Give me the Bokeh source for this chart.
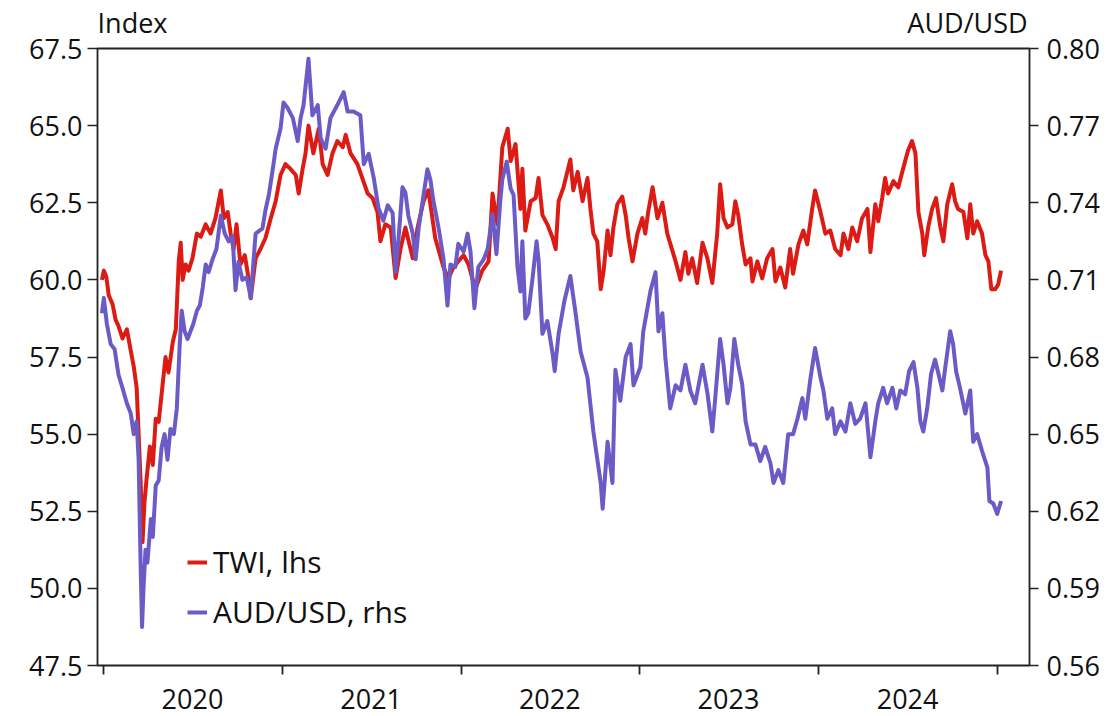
import numpy as np
from datetime import datetime
from bokeh.plotting import figure
from bokeh.models import (Range1d, LinearAxis, FixedTicker, CustomJSTickFormatter,
                          PrintfTickFormatter, Legend, LegendItem)
from bokeh.embed import file_html
from bokeh.resources import INLINE

# ---- data ----
# days since 2020-01-01
twi_days = [-3, 1, 6, 11, 19, 25, 31, 39, 48, 56, 62, 68, 72, 76, 80, 84, 88, 95, 101, 107, 113, 121, 127, 133,
            142, 148, 154, 158, 162, 168, 174, 182, 191, 199, 209, 219, 229, 240, 246, 254, 260, 266, 272, 280,
            289, 297, 301, 311, 321, 331, 342, 352, 362, 372, 382, 393, 399, 407, 413, 419, 429, 440, 448, 458,
            468, 478, 489, 495, 505, 519, 529, 540, 550, 560, 566, 576, 587, 597, 607, 617, 632, 642, 654, 664,
            678, 695, 705, 715, 725, 736, 746, 760, 774, 787, 795, 805, 815, 826, 832, 842, 852, 856, 862, 873,
            883, 889, 897, 907, 918, 924, 930, 940, 954, 960, 969, 979, 989, 995, 1001, 1009, 1016, 1022, 1030,
            1036, 1042, 1050, 1060, 1067, 1073, 1081, 1091, 1101, 1107, 1113, 1122, 1132, 1142, 1152, 1169, 1179,
            1189, 1195, 1203, 1213, 1224, 1234, 1244, 1254, 1260, 1267, 1275, 1285, 1291, 1297, 1305, 1312, 1322,
            1326, 1336, 1346, 1356, 1367, 1373, 1383, 1393, 1403, 1409, 1420, 1430, 1438, 1448, 1454, 1465, 1475,
            1485, 1495, 1506, 1512, 1522, 1530, 1540, 1550, 1561, 1567, 1577, 1583, 1591, 1597, 1603, 1614, 1624,
            1632, 1638, 1644, 1652, 1659, 1665, 1673, 1677, 1685, 1693, 1701, 1710, 1716, 1724, 1734, 1740, 1746,
            1757, 1765, 1771, 1777, 1785, 1795, 1802, 1808, 1814, 1822, 1828, 1834]
twi_vals = [60.0, 60.3, 60.1, 59.5, 59.2, 58.7, 58.5, 58.1, 58.4, 57.7, 57.2, 56.5, 55.0, 53.5, 51.5, 52.8, 53.5,
            54.6, 54.0, 55.5, 55.4, 56.6, 57.5, 57.0, 58.0, 58.4, 60.6, 61.2, 60.0, 60.5, 60.3, 60.7, 61.5, 61.4,
            61.8, 61.5, 62.0, 62.9, 62.0, 62.2, 61.5, 61.0, 61.8, 60.5, 60.8, 60.0, 59.4, 60.7, 61.0, 61.35, 62.0,
            62.55, 63.4, 63.75, 63.6, 63.4, 62.8, 63.6, 64.1, 65.0, 64.1, 64.9, 63.75, 63.4, 64.1, 64.5, 64.3,
            64.7, 64.1, 63.75, 63.3, 62.8, 62.65, 62.2, 61.25, 61.8, 61.7, 60.06, 61.0, 61.7, 60.7, 61.7, 62.55,
            62.9, 61.35, 60.4, 60.05, 60.4, 60.6, 60.8, 60.5, 59.7, 60.3, 60.6, 62.8, 61.8, 64.3, 64.9, 63.85,
            64.4, 62.3, 63.6, 61.6, 62.55, 62.65, 63.3, 62.1, 61.8, 61.35, 61.0, 62.55, 63.0, 63.9, 62.9, 63.5,
            62.55, 63.3, 62.3, 61.5, 61.25, 59.7, 60.3, 61.6, 60.8, 61.7, 62.45, 62.7, 62.1, 61.35, 60.6, 61.5,
            62.0, 61.5, 62.2, 63.0, 62.0, 62.5, 61.5, 60.6, 60.0, 60.9, 60.2, 60.7, 59.9, 61.2, 60.7, 59.9, 61.5,
            63.1, 62.0, 61.7, 61.8, 62.55, 62.1, 61.15, 60.5, 60.7, 59.95, 60.6, 60.05, 60.7, 61.0, 59.95, 60.4,
            59.75, 61.0, 60.2, 61.15, 61.6, 61.15, 62.3, 62.9, 62.2, 61.5, 61.6, 61.0, 60.8, 61.5, 61.0, 61.7,
            61.25, 62.0, 62.3, 60.9, 62.45, 61.9, 62.65, 63.3, 62.8, 63.2, 63.0, 63.5, 63.85, 64.2, 64.5, 64.1,
            62.2, 61.5, 60.8, 61.7, 62.3, 62.65, 61.7, 61.25, 62.45, 63.1, 62.55, 62.3, 62.2, 61.35, 62.45, 61.5,
            61.9, 61.5, 60.8, 60.6, 59.7, 59.7, 59.85, 60.3]

aud_days = [-3, 1, 7, 15, 23, 31, 39, 48, 56, 62, 68, 72, 76, 79, 82, 86, 90, 97, 101, 107, 113, 119, 125, 131,
            137, 144, 150, 156, 160, 166, 172, 178, 184, 191, 197, 203, 209, 215, 223, 231, 240, 248, 256, 264,
            270, 276, 284, 293, 301, 311, 325, 331, 338, 346, 352, 362, 368, 376, 387, 397, 403, 409, 419, 427,
            438, 444, 454, 464, 478, 491, 499, 511, 525, 532, 542, 552, 562, 572, 581, 591, 597, 603, 611, 617,
            623, 632, 638, 644, 654, 662, 668, 674, 685, 695, 703, 709, 719, 725, 736, 744, 750, 758, 766, 777,
            785, 795, 803, 811, 815, 824, 832, 838, 846, 852, 856, 862, 868, 877, 885, 889, 897, 907, 918, 922,
            930, 942, 954, 964, 975, 989, 1001, 1016, 1020, 1030, 1040, 1046, 1056, 1067, 1077, 1083, 1097, 1103,
            1118, 1128, 1134, 1142, 1148, 1158, 1169, 1179, 1189, 1199, 1209, 1224, 1234, 1244, 1250, 1260, 1267,
            1275, 1281, 1289, 1297, 1305, 1312, 1322, 1332, 1342, 1352, 1363, 1369, 1379, 1389, 1399, 1409, 1418,
            1428, 1434, 1444, 1454, 1465, 1471, 1479, 1489, 1495, 1506, 1516, 1526, 1536, 1546, 1557, 1567, 1577,
            1583, 1593, 1601, 1612, 1620, 1628, 1638, 1646, 1655, 1663, 1669, 1675, 1683, 1691, 1699, 1706, 1714,
            1720, 1730, 1736, 1742, 1750, 1761, 1771, 1777, 1785, 1795, 1806, 1810, 1818, 1826, 1834]
aud_vals = [0.697, 0.703, 0.693, 0.685, 0.683, 0.673, 0.668, 0.662, 0.658, 0.650, 0.655, 0.640, 0.600, 0.575,
            0.590, 0.605, 0.600, 0.617, 0.610, 0.630, 0.632, 0.645, 0.650, 0.640, 0.652, 0.650, 0.660, 0.685,
            0.698, 0.690, 0.687, 0.690, 0.693, 0.698, 0.700, 0.707, 0.716, 0.713, 0.718, 0.722, 0.735, 0.728,
            0.725, 0.727, 0.706, 0.717, 0.710, 0.711, 0.703, 0.728, 0.730, 0.737, 0.743, 0.753, 0.761, 0.769,
            0.779, 0.777, 0.773, 0.764, 0.773, 0.778, 0.796, 0.774, 0.778, 0.765, 0.761, 0.773, 0.778, 0.783,
            0.7755, 0.7755, 0.774, 0.755, 0.759, 0.750, 0.738, 0.733, 0.739, 0.736, 0.713, 0.726, 0.746, 0.744,
            0.735, 0.728, 0.718, 0.730, 0.743, 0.753, 0.749, 0.741, 0.730, 0.718, 0.700, 0.716, 0.715, 0.724,
            0.721, 0.728, 0.721, 0.699, 0.715, 0.718, 0.722, 0.7355, 0.720, 0.741, 0.749, 0.756, 0.7455, 0.743,
            0.715, 0.7055, 0.725, 0.695, 0.697, 0.711, 0.725, 0.718, 0.689, 0.694, 0.681, 0.6745, 0.689, 0.702,
            0.7115, 0.698, 0.682, 0.672, 0.651, 0.631, 0.621, 0.647, 0.631, 0.675, 0.663, 0.680, 0.685, 0.669,
            0.676, 0.690, 0.706, 0.713, 0.690, 0.697, 0.680, 0.660, 0.669, 0.667, 0.677, 0.667, 0.662, 0.677,
            0.666, 0.651, 0.664, 0.687, 0.677, 0.662, 0.668, 0.687, 0.677, 0.6695, 0.655, 0.646, 0.646, 0.6395,
            0.645, 0.6385, 0.631, 0.636, 0.631, 0.650, 0.650, 0.656, 0.664, 0.656, 0.671, 0.6835, 0.672, 0.667,
            0.656, 0.660, 0.650, 0.655, 0.651, 0.662, 0.654, 0.656, 0.662, 0.641, 0.655, 0.662, 0.668, 0.662,
            0.668, 0.660, 0.667, 0.6655, 0.6745, 0.678, 0.668, 0.655, 0.651, 0.660, 0.6735, 0.679, 0.6735, 0.667,
            0.676, 0.690, 0.685, 0.6745, 0.668, 0.658, 0.667, 0.647, 0.650, 0.6435, 0.637, 0.624, 0.623, 0.619,
            0.624]

year_labels = [2020, 2021, 2022, 2023, 2024]
twi_ticks = [47.5, 50.0, 52.5, 55.0, 57.5, 60.0, 62.5, 65.0, 67.5]
aud_ticks = [0.56, 0.59, 0.62, 0.65, 0.68, 0.71, 0.74, 0.77, 0.80]
unit_labels = ["Index", "AUD/USD"]

RED = "#dc1b14"
PURPLE = "#6a5bc6"
FONT = "Open Sans"
INK = "#111111"
FRAME = "#222222"

base = np.datetime64("2020-01-01")
twi_x = base + np.array(twi_days).astype("timedelta64[D]")
aud_x = base + np.array(aud_days).astype("timedelta64[D]")


def ms(dt):
    return (dt - datetime(1970, 1, 1)).total_seconds() * 1000.0


W, H = 1117, 716
L, R, T, B = 97, 88, 47, 51
frame_w = W - L - R

p = figure(width=W, height=H, x_axis_type="datetime", output_backend="svg",
           toolbar_location=None,
           x_range=Range1d(ms(datetime(2019, 12, 20)), ms(datetime(2025, 3, 7))),
           y_range=Range1d(47.5, 67.5),
           min_border_left=L, min_border_right=R, min_border_top=T, min_border_bottom=B)
p.extra_y_ranges = {"aud": Range1d(0.56, 0.80)}
p.extra_x_ranges = {"lab": Range1d(0, frame_w)}

p.xgrid.visible = False
p.ygrid.visible = False
p.outline_line_color = FRAME
p.outline_line_width = 1.8
p.background_fill_color = "white"
p.border_fill_color = "white"

r1 = p.line(twi_x, twi_vals, line_color=RED, line_width=4, line_join="round")
r2 = p.line(aud_x, aud_vals, line_color=PURPLE, line_width=4, line_join="round", y_range_name="aud")

# x axis: year boundary ticks, labels centred mid-year
xa = p.xaxis[0]
xa.ticker = FixedTicker(ticks=[ms(datetime(y, 7, 1)) for y in year_labels],
                        minor_ticks=[ms(datetime(y, 1, 1)) for y in year_labels + [2025]])
xa.formatter = CustomJSTickFormatter(code="return String(new Date(tick).getUTCFullYear());")
xa.axis_line_color = None
xa.major_tick_out = 0
xa.major_tick_in = 0
xa.minor_tick_out = 9
xa.minor_tick_in = 0
xa.minor_tick_line_color = FRAME
xa.minor_tick_line_width = 1.8
xa.major_label_standoff = 14
xa.major_label_text_font = FONT
xa.major_label_text_font_size = "27px"
xa.major_label_text_color = INK

# left axis
ya = p.yaxis[0]
ya.ticker = FixedTicker(ticks=twi_ticks)
ya.formatter = PrintfTickFormatter(format="%.1f")
ya.axis_line_color = None
ya.major_tick_out = 10
ya.major_tick_in = 0
ya.minor_tick_out = 0
ya.minor_tick_in = 0
ya.major_tick_line_color = FRAME
ya.major_tick_line_width = 1.5
ya.major_label_standoff = 5
ya.major_label_text_font = FONT
ya.major_label_text_font_size = "27px"
ya.major_label_text_color = INK

# right axis
ra = LinearAxis(y_range_name="aud", ticker=FixedTicker(ticks=aud_ticks),
                formatter=PrintfTickFormatter(format="%.2f"))
ra.axis_line_color = None
ra.major_tick_out = 9
ra.major_tick_in = 0
ra.minor_tick_out = 0
ra.minor_tick_in = 0
ra.major_tick_line_color = FRAME
ra.major_tick_line_width = 1.5
ra.major_label_standoff = 8
ra.major_label_text_font = FONT
ra.major_label_text_font_size = "27px"
ra.major_label_text_color = INK
p.add_layout(ra, "right")

# unit labels above the frame (an axis without line/ticks)
ta = LinearAxis(x_range_name="lab", ticker=FixedTicker(ticks=[35, frame_w - 62]),
                formatter=CustomJSTickFormatter(
                    code="return tick < %d ? '%s' : '%s';" % (frame_w // 2, unit_labels[0], unit_labels[1])))
ta.axis_line_color = None
ta.major_tick_out = 0
ta.major_tick_in = 0
ta.minor_tick_out = 0
ta.minor_tick_in = 0
ta.major_label_standoff = 8
ta.major_label_text_font = FONT
ta.major_label_text_font_size = "27px"
ta.major_label_text_color = INK
p.add_layout(ta, "above")

legend = Legend(items=[LegendItem(label="TWI, lhs", renderers=[r1]),
                       LegendItem(label="AUD/USD, rhs", renderers=[r2])],
                location=(90, 33), orientation="vertical")
legend.label_text_font = FONT
legend.label_text_font_size = "30px"
legend.label_text_color = INK
legend.label_text_baseline = "middle"
legend.glyph_width = 20
legend.glyph_height = 38
legend.label_height = 38
legend.label_standoff = 6
legend.spacing = 9
legend.padding = 0
legend.margin = 0
legend.border_line_color = None
legend.background_fill_alpha = 0
p.add_layout(legend)

open("out.html", "w").write(file_html(p, INLINE))
